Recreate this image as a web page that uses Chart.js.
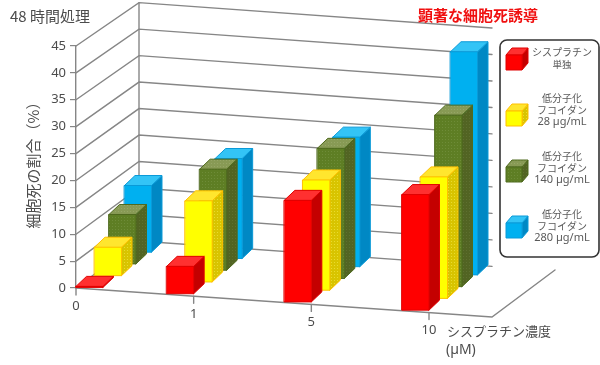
<!DOCTYPE html>
<html lang="ja">
<head>
<meta charset="utf-8">
<script src="https://cdn.jsdelivr.net/npm/chart.js@4"></script>
<style>
html,body{margin:0;padding:0;background:#fff;overflow:hidden}
#wrap{position:relative;width:600px;height:365px}
canvas{filter:blur(0.35px)}
</style>
</head>
<body>
<div id="wrap"><canvas id="c" width="600" height="365"></canvas></div>
<script>
const categories = ['0', '1', '5', '10'];
const cisplatin = [0.3, 5.2, 19, 21.6];
const fucoidan28 = [5.4, 15.2, 20.6, 22.7];
const fucoidan140 = [9.3, 18.9, 24.3, 32];
const fucoidan280 = [12.5, 18.7, 24.2, 41.6];
const yTicks = [0, 5, 10, 15, 20, 25, 30, 35, 40, 45];
const seriesLabels = [
  ['シスプラチン', '単独'],
  ['低分子化', 'フコイダン', '28 µg/mL'],
  ['低分子化', 'フコイダン', '140 µg/mL'],
  ['低分子化', 'フコイダン', '280 µg/mL']
];
const cornerTitle = '48 時間処理';
const noteText = '顕著な細胞死誘導';
const yTitle = '細胞死の割合（%）';
const xTitle = ['シスプラチン濃度', '(µM)'];

const JP = '"Noto Sans CJK JP","Noto Sans",sans-serif';
const NUM = '"Noto Sans","Noto Sans CJK JP",sans-serif';
const TXT = '#4c4c4c';
const GRID = '#868686';

function stipple(base, dot){
  const p = document.createElement('canvas');
  p.width = 3; p.height = 3;
  const g = p.getContext('2d');
  g.fillStyle = base; g.fillRect(0,0,3,3);
  g.fillStyle = dot; g.fillRect(1,1,1,1);
  return g.createPattern(p,'repeat');
}
const palette = [
  {face:'#ff0000', top:'#ff3030', side:'#c40000', edge:'#e00000'},
  {face:'#ffff00', top:'#ffe62e', side:stipple('#d8c400','#e8dc30'), edge:'#ffc000'},
  {face:stipple('#5e7e24','#6e8c38'), top:stipple('#889a55','#96a666'), side:stipple('#526423','#5e7030'), edge:'#4f6a1e'},
  {face:'#00b0f0', top:'#33c4f6', side:'#0088c4', edge:'#0a9ad8'}
];

// oblique projection of the chart's depth axis
const DEPTH = {dx:63, dy:-47, backScale:0.985, slope:29/416, rowDx:[0,18.5,33,48.5], rowDy:-11.75, barDx:10.5, barDy:-10};

function poly(ctx, pts, fill, stroke){
  ctx.beginPath();
  pts.forEach((p,i)=> i ? ctx.lineTo(p[0],p[1]) : ctx.moveTo(p[0],p[1]));
  ctx.closePath();
  ctx.fillStyle = fill; ctx.fill();
  if(stroke){ctx.strokeStyle = stroke; ctx.lineWidth = 1; ctx.stroke();}
}
function box(ctx, l, w, top, bot, dx, dy, c){
  poly(ctx, [[l+w,bot],[l+w+dx,bot+dy],[l+w+dx,top+dy],[l+w,top]], c.side, c.edge);
  poly(ctx, [[l,top],[l+dx,top+dy],[l+w+dx,top+dy],[l+w,top]], c.top, c.edge);
  poly(ctx, [[l,top],[l+w,top],[l+w,bot],[l,bot]], c.face, c.edge);
}
function text(ctx, s, x, y, font, color, align){
  ctx.font = font; ctx.fillStyle = color;
  ctx.textAlign = align || 'center'; ctx.textBaseline = 'middle';
  ctx.fillText(s, x, y);
}

const scene3d = {
  id:'scene3d',
  beforeDatasetsDraw(chart){
    const ctx = chart.ctx, xS = chart.scales.x, yS = chart.scales.y;
    const x0 = xS.left, y0 = yS.getPixelForValue(0), D = DEPTH;
    const xEnd = xS.right + D.dx;
    const yEnd = y0 + D.slope*(xEnd-x0);
    ctx.save();
    ctx.lineCap = 'round';
    ctx.strokeStyle = GRID; ctx.lineWidth = 1.4;
    // walls: one pair of lines for each tick of the value axis
    yS.ticks.forEach(t=>{
      const y = yS.getPixelForValue(t.value);
      const by = y0 + (y-y0)*D.backScale + D.dy;
      ctx.beginPath();
      ctx.moveTo(x0,y); ctx.lineTo(x0+D.dx,by);
      ctx.lineTo(xEnd, by + D.slope*(xEnd-x0-D.dx)*1.03);
      ctx.stroke();
    });
    // back corner and floor
    const topBack = y0 + (yS.getPixelForValue(45)-y0)*D.backScale + D.dy;
    ctx.beginPath(); ctx.moveTo(x0+D.dx,topBack); ctx.lineTo(x0+D.dx,y0+D.dy); ctx.stroke();
    ctx.beginPath(); ctx.moveTo(x0,y0); ctx.lineTo(xEnd,yEnd); ctx.lineTo(xEnd+D.dx,yEnd+D.dy); ctx.stroke();
    // category ticks and labels along the skewed front edge
    xS.ticks.forEach((t,i)=>{
      const px = xS.getPixelForTick(i), y = y0 + D.slope*(px-x0);
      ctx.beginPath(); ctx.moveTo(px,y); ctx.lineTo(px,y+7); ctx.stroke();
      text(ctx, categories[i], px, y+18, '13px '+NUM, TXT);
    });
    // bars, back row first
    for(let row=chart.data.datasets.length-1; row>=0; row--){
      chart.getDatasetMeta(row).data.forEach((el,i)=>{
        const w = el.width;
        const left = Math.max(xS.left, el.x - w);
        const lift = D.slope*(left-x0);
        const bot = el.base + lift + row*D.rowDy;
        const top = el.y + lift + row*D.rowDy;
        box(ctx, left + D.rowDx[row], w, top, bot, D.barDx, D.barDy, palette[row]);
      });
    }
    ctx.restore();
    return false;
  },
  afterDraw(chart){
    const ctx = chart.ctx;
    ctx.save();
    text(ctx, cornerTitle, 10, 16, '15px '+JP, TXT, 'left');
    text(ctx, noteText, 418, 15, 'bold 15px '+JP, '#f01010', 'left');
    text(ctx, xTitle[0], 447, 331, '13px '+JP, TXT, 'left');
    text(ctx, xTitle[1], 446, 350, '14px '+NUM, TXT, 'left');
    // rotated value-axis title
    ctx.save();
    ctx.translate(33, 161.5); ctx.rotate(-Math.PI/2);
    text(ctx, yTitle, 0, 0, '15px '+JP, TXT);
    ctx.restore();
    // legend panel
    ctx.beginPath(); ctx.roundRect(500,40,99,217,7);
    ctx.fillStyle = '#fff'; ctx.fill();
    ctx.strokeStyle = '#333'; ctx.lineWidth = 1.6; ctx.stroke();
    const iconBottom = [70, 126, 182, 238];
    const textTop = [52, 98, 156, 214];
    seriesLabels.forEach((lines,i)=>{
      box(ctx, 506, 16, iconBottom[i]-15, iconBottom[i], 6, -7, palette[i]);
      lines.forEach((s,j)=>{
        const numeric = /[0-9]/.test(s);
        text(ctx, s, 562, textTop[i]+j*12, (numeric?'11px ':(j===1&&i===0?'9.5px ':'10px '))+(numeric?NUM:JP), '#5a5a5a', 'center');
      });
    });
    ctx.restore();
  }
};

const names = seriesLabels.map(l=>l.join(' '));
new Chart(document.getElementById('c'), {
  type:'bar',
  data:{
    labels:categories,
    datasets:[
      {label:names[0], data:cisplatin, backgroundColor:'#ff0000'},
      {label:names[1], data:fucoidan28, backgroundColor:'#ffff00'},
      {label:names[2], data:fucoidan140, backgroundColor:'#5f7f25'},
      {label:names[3], data:fucoidan280, backgroundColor:'#00b0f0'}
    ]
  },
  options:{
    responsive:false, animation:false,
    layout:{padding:{left:0,top:46,right:171,bottom:77}},
    plugins:{legend:{display:false},tooltip:{enabled:false},title:{display:false}},
    datasets:{bar:{grouped:false, barThickness:27}},
    scales:{
      x:{display:false, offset:false, grid:{display:false}},
      y:{
        min:0, max:45,
        afterFit(s){s.width = 76;},
        afterBuildTicks(s){s.ticks = yTicks.map(v=>({value:v}));},
        border:{display:true,color:GRID,width:1.4},
        grid:{drawOnChartArea:false,drawTicks:true,tickLength:6,color:GRID,lineWidth:1.2},
        ticks:{color:TXT,font:{size:13,family:NUM},padding:4}
      }
    }
  },
  plugins:[scene3d]
});
</script>
</body>
</html>
